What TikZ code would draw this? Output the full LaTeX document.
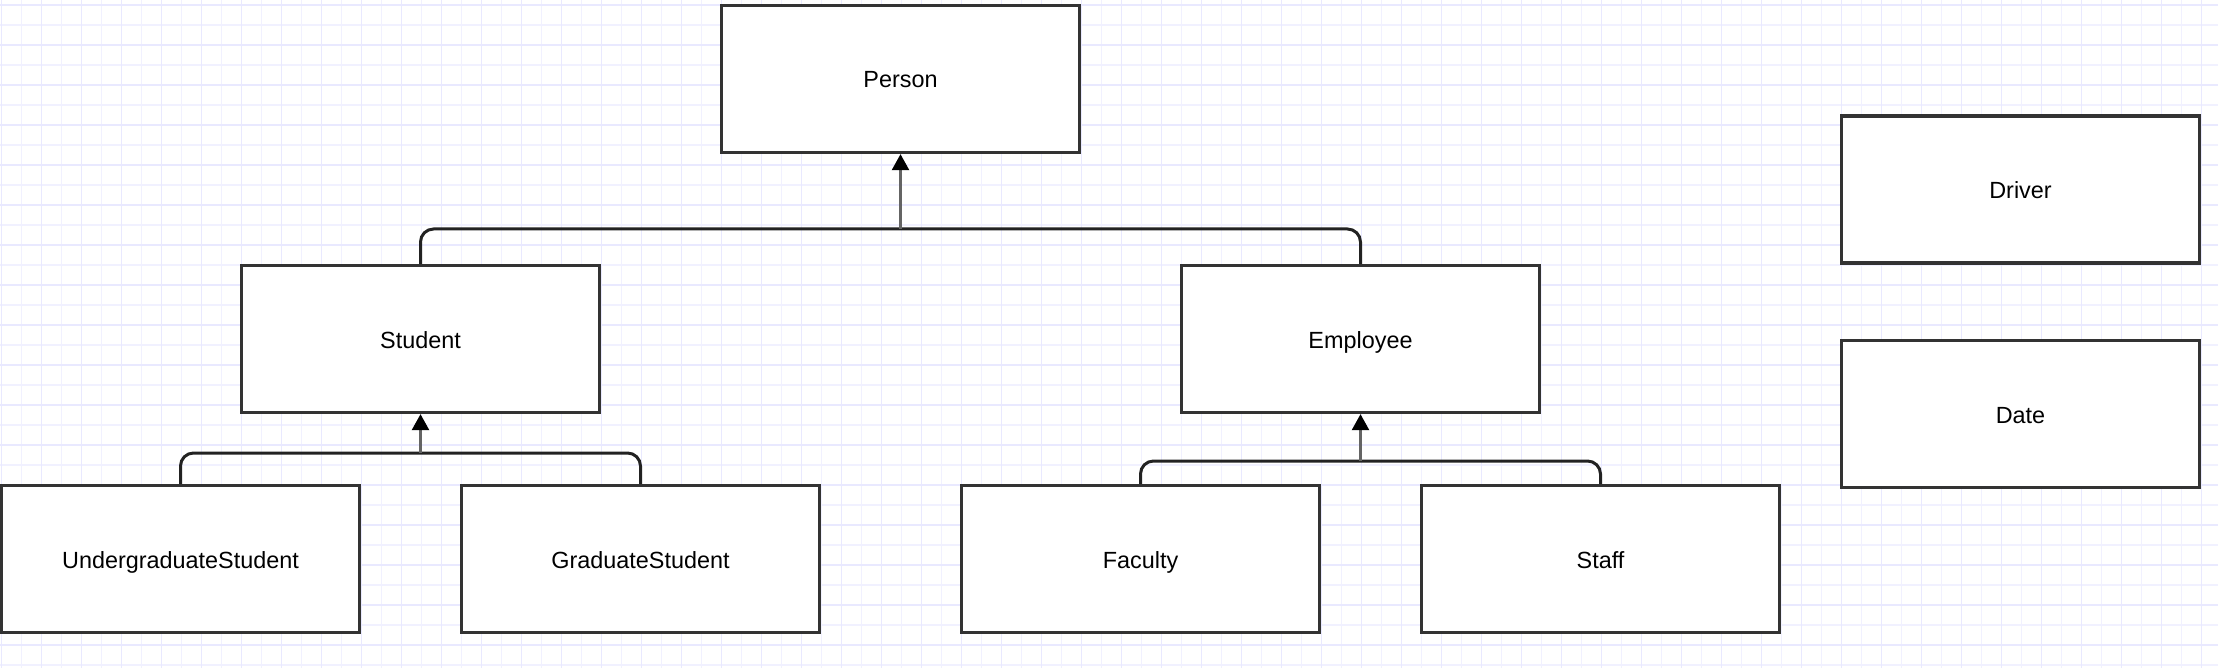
\documentclass[tikz,border=0pt]{standalone}
\usepackage{fontspec}
\setmainfont{Liberation Sans}
\usetikzlibrary{arrows.meta}
\definecolor{gridA}{RGB}{233,233,255}
\definecolor{gridB}{RGB}{241,241,255}
\definecolor{boxline}{RGB}{51,51,51}
\definecolor{busline}{RGB}{34,34,34}
\definecolor{arrline}{RGB}{100,100,100}
\tikzset{
  umlbox/.style={draw=boxline, line width=3.3pt, fill=white, minimum width=358pt,
    minimum height=147pt, inner sep=0pt, text height=20pt, text depth=2pt,
    font=\fontsize{23.4pt}{28pt}\selectfont},
  busconn/.style={draw=busline, line width=3pt, rounded corners=13pt},
  inherit/.style={draw=arrline, line width=2.5pt, -{Triangle[width=17pt,length=16pt,fill=black,color=black]}},
  gridmajor/.style={draw=gridA, line width=1.5pt},
  gridminor/.style={draw=gridB, line width=1.5pt}
}
\begin{document}
\begin{tikzpicture}[x=1pt,y=-1pt]
\useasboundingbox[fill=white] (0,0) rectangle (2218,668);
% grid
\foreach \gx in {21.7,61.7,...,2218} \draw[gridminor] (\gx,0) -- (\gx,668);
\foreach \gy in {25,65,...,668} \draw[gridminor] (0,\gy) -- (2218,\gy);
\foreach \gx in {1.7,41.7,...,2218} \draw[gridmajor] (\gx,0) -- (\gx,668);
\foreach \gy in {5,45,...,668} \draw[gridmajor] (0,\gy) -- (2218,\gy);
% boxes
\node[umlbox] (person) at (900.5,79) {Person};
\node[umlbox] (student) at (420.5,339) {Student};
\node[umlbox] (employee) at (1360.5,339) {Employee};
\node[umlbox] (driver) at (2020.5,189.5) {Driver};
\node[umlbox] (date) at (2020.5,414) {Date};
\node[umlbox] (under) at (180.5,559) {UndergraduateStudent};
\node[umlbox] (grad) at (640.5,559) {GraduateStudent};
\node[umlbox] (faculty) at (1140.5,559) {Faculty};
\node[umlbox] (staff) at (1600.5,559) {Staff};
% junctions
\coordinate (j1) at (900.5,229);
\coordinate (j2) at (420.5,453);
\coordinate (j3) at (1360.5,461);
% buses
\draw[busconn] (student.north) |- (j1) -| (employee.north);
\draw[busconn] (under.north) |- (j2) -| (grad.north);
\draw[busconn] (faculty.north) |- (j3) -| (staff.north);
% arrows
\draw[inherit] (j1) -- (person.south);
\draw[inherit] (j2) -- (student.south);
\draw[inherit] (j3) -- (employee.south);
\end{tikzpicture}
\end{document}
